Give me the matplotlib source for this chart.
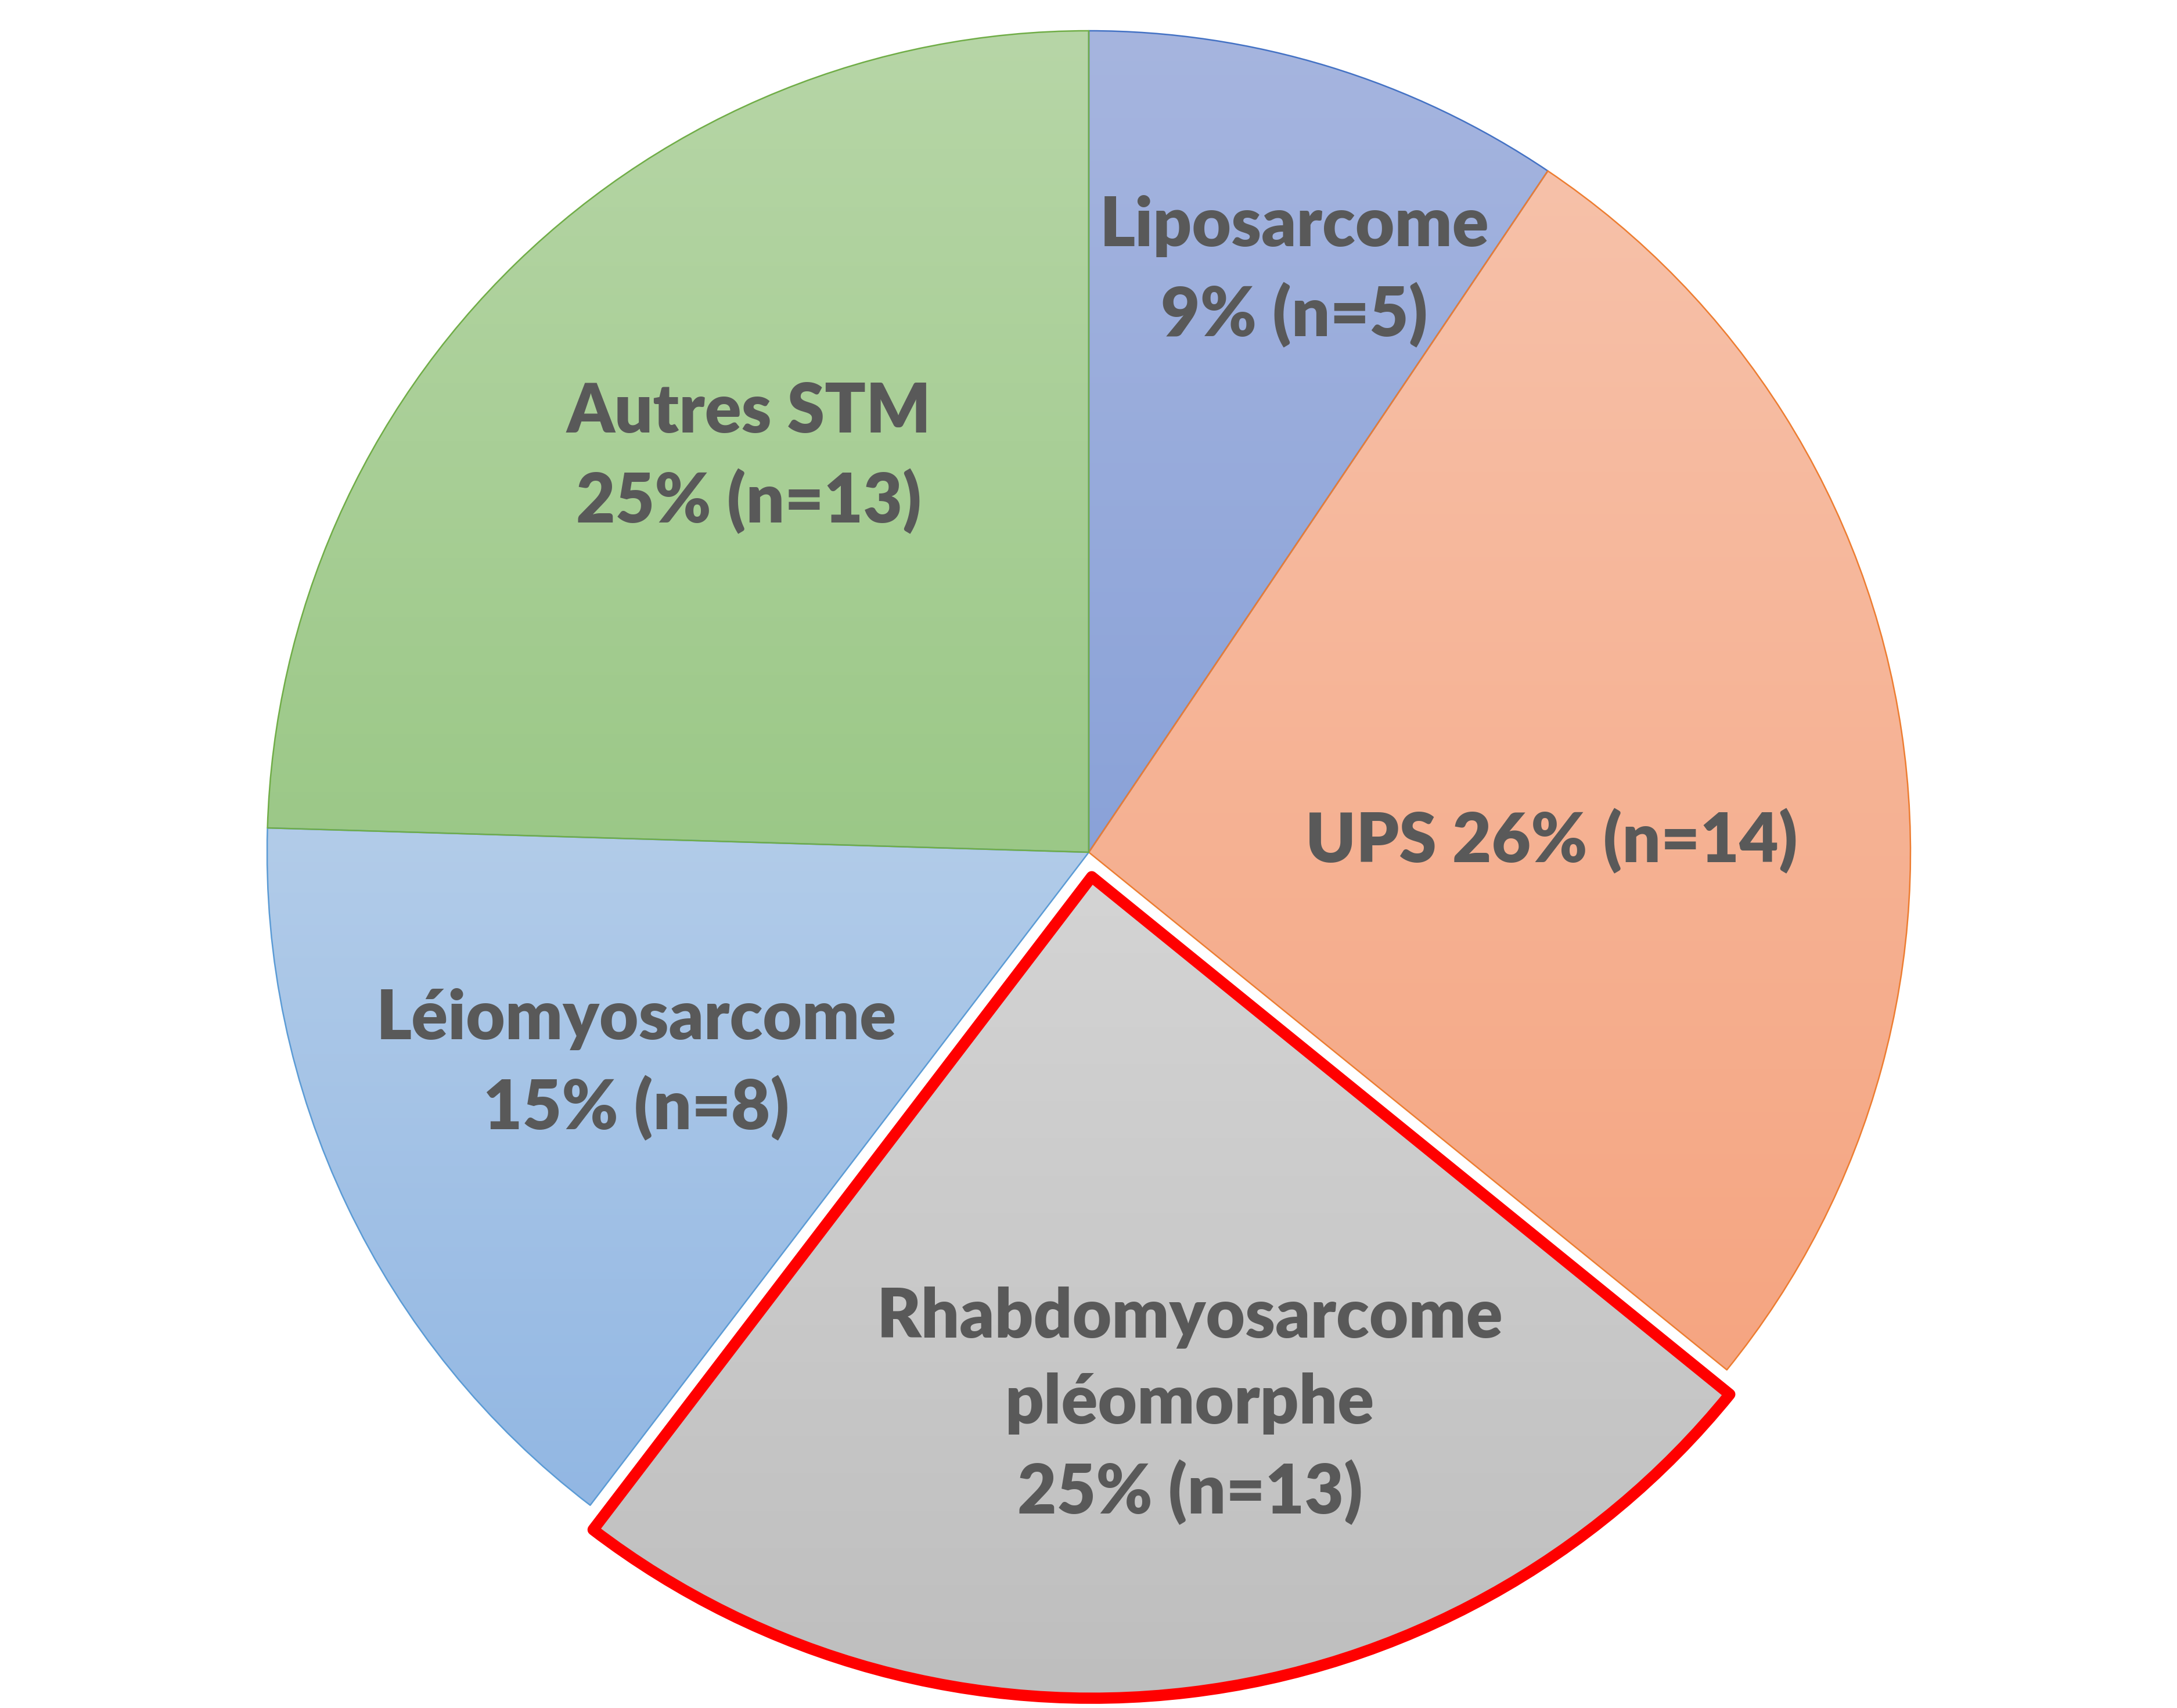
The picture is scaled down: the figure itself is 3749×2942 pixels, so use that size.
import numpy as np
import matplotlib
matplotlib.use("Agg")
import matplotlib.pyplot as plt
from matplotlib.colors import to_rgb

# data
categories = ["Liposarcome", "UPS", "Rhabdomyosarcome\npléomorphe", "Léiomyosarcome", "Autres STM"]
counts = [5, 14, 13, 8, 13]
pct_labels = ["9%", "26%", "25%", "15%", "25%"]

# styles
top_colors = ["#A6B5DF", "#F7C1A9", "#D4D4D4", "#B2CCE9", "#B7D6A7"]
bottom_colors = ["#8AA2D8", "#F5A581", "#BEBEBE", "#92B7E3", "#9BC887"]
edge_colors = ["#4472C4", "#ED7D31", "#FF0000", "#5B9BD5", "#70AD47"]
edge_widths = [1.8, 1.8, 14, 1.8, 1.8]
explode = [0, 0, 0.03, 0, 0]
# label centres in units of the pie radius
label_pos = [(0.25, 0.707), (0.563, 0.014), (0.123, -0.674), (-0.551, -0.258), (-0.414, 0.480)]

fig = plt.figure(figsize=(37.49, 29.42), dpi=100)
ax = fig.add_axes([0, 0, 1, 1])

wedges, _ = ax.pie(counts, startangle=90, counterclock=False, explode=explode,
                   radius=1, wedgeprops=dict(linewidth=0))

for w, c0, c1, ec, lw in zip(wedges, top_colors, bottom_colors, edge_colors, edge_widths):
    w.set_facecolor("none")
    w.set_edgecolor(ec)
    w.set_linewidth(lw)
    w.set_joinstyle("round")
    w.set_zorder(2)
    bb = w.get_path().get_extents()
    t = np.linspace(0, 1, 256)[:, None, None]
    grad = (1 - t) * np.array(to_rgb(c0)) + t * np.array(to_rgb(c1))
    im = ax.imshow(grad, extent=[bb.x0, bb.x1, bb.y0, bb.y1], origin="upper",
                   aspect="auto", interpolation="bilinear", zorder=1)
    im.set_clip_path(w)

for cat, n, p, (x, y) in zip(categories, counts, pct_labels, label_pos):
    if cat == "UPS":
        txt = f"{cat} {p} (n={n})"
    else:
        txt = f"{cat}\n{p} (n={n})"
    ax.text(x, y, txt, ha="center", va="center", fontsize=84, fontweight="heavy",
            color="#595959", family=["Lato", "DejaVu Sans"], linespacing=1.46, zorder=3)

R = 1415.0
cx, cy = 1875.0, 1468.0
ax.set_xlim(-cx / R, (3749 - cx) / R)
ax.set_ylim(-(2942 - cy) / R, cy / R)
ax.set_aspect("auto")
ax.axis("off")

fig.savefig("out.png", dpi=100)
